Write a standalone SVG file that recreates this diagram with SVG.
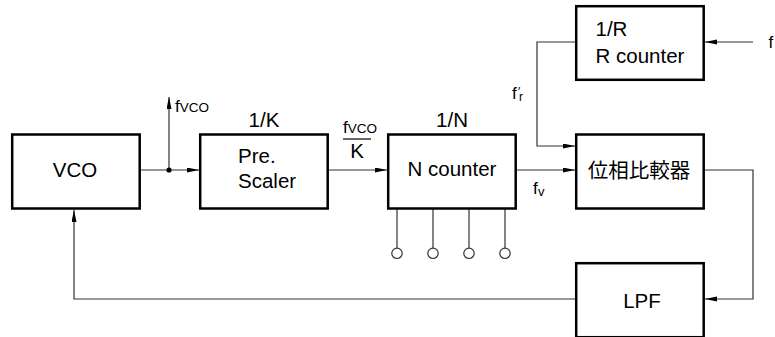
<svg xmlns="http://www.w3.org/2000/svg" width="775" height="337" viewBox="0 0 775 337">
<style>
.box{fill:#fff;stroke:#000;stroke-width:2.5}
.ln{fill:none;stroke:#333;stroke-width:1.2}
.t{font-family:"Liberation Sans",Arial,sans-serif;font-size:20.5px;fill:#000}
.s{font-family:"Liberation Sans",Arial,sans-serif;font-size:17px;fill:#000}
.sub{font-size:13.5px}
.cjk{font-family:"Liberation Sans","Noto Sans CJK JP",sans-serif;font-size:20.5px;fill:#000}
</style>
<defs>
<marker id="ar" markerUnits="userSpaceOnUse" markerWidth="12" markerHeight="6" refX="12" refY="2.5" orient="auto">
<path d="M0,0 L12,2.5 L0,5 z" fill="#000"/>
</marker>
</defs>
<g id="connectors">
<line class="ln" x1="140" y1="170" x2="199" y2="170" marker-end="url(#ar)"/>
<line class="ln" x1="169" y1="170" x2="169" y2="97" marker-end="url(#ar)"/>
<circle cx="169" cy="170" r="2.6" fill="#000"/>
<line class="ln" x1="329" y1="170" x2="387" y2="170" marker-end="url(#ar)"/>
<line class="ln" x1="517" y1="170" x2="575" y2="170" marker-end="url(#ar)"/>
<polyline class="ln" points="575,42 537,42 537,146 575,146" marker-end="url(#ar)"/>
<line class="ln" x1="753" y1="42" x2="705" y2="42" marker-end="url(#ar)"/>
<polyline class="ln" points="705,170 753,170 753,299 705,299" marker-end="url(#ar)"/>
<polyline class="ln" points="575,299 74,299 74,210" marker-end="url(#ar)"/>
<g id="pins">
<line class="ln" x1="397" y1="209" x2="397" y2="248"/>
<line class="ln" x1="433" y1="209" x2="433" y2="248"/>
<line class="ln" x1="469" y1="209" x2="469" y2="248"/>
<line class="ln" x1="505" y1="209" x2="505" y2="248"/>
<circle class="ln" cx="397" cy="253.3" r="5.2"/>
<circle class="ln" cx="433" cy="253.3" r="5.2"/>
<circle class="ln" cx="469" cy="253.3" r="5.2"/>
<circle class="ln" cx="505" cy="253.3" r="5.2"/>
</g>
<text class="s" x="175" y="112">f<tspan class="sub">VCO</tspan></text>
<text class="s" x="343" y="133">f<tspan class="sub">VCO</tspan></text>
<line x1="343" y1="139" x2="371" y2="139" stroke="#000" stroke-width="1.2"/>
<text class="t" x="357" y="158" text-anchor="middle">K</text>
<text class="s" x="512" y="99">f</text>
<text class="s" x="518" y="96" style="font-size:12px">′</text>
<text class="s" x="519" y="101" style="font-size:12px">r</text>
<text class="s" x="533" y="194">f</text>
<text class="s" x="538" y="196" style="font-size:13px">v</text>
<text class="s" x="768.5" y="48">f</text>
</g>
<g id="vco">
<rect class="box" x="12.2" y="134.5" width="127.5" height="74"/>
<text class="t" x="75" y="177" text-anchor="middle">VCO</text>
</g>
<g id="prescaler">
<rect class="box" x="200.2" y="134.5" width="127.5" height="74"/>
<text class="t" x="264" y="127" text-anchor="middle">1/K</text>
<text class="t" x="238" y="163">Pre.</text>
<text class="t" x="238" y="188">Scaler</text>
</g>
<g id="ncounter">
<rect class="box" x="388.2" y="134.5" width="127.5" height="74"/>
<text class="t" x="452" y="127" text-anchor="middle">1/N</text>
<text class="t" x="452" y="176" text-anchor="middle">N counter</text>
</g>
<g id="comparator">
<rect class="box" x="576.2" y="134.5" width="127.5" height="74"/>
<text class="cjk" x="639" y="178" text-anchor="middle">位相比較器</text>
</g>
<g id="rcounter">
<rect class="box" x="576.2" y="6.2" width="127.5" height="73.6"/>
<text class="t" x="595.5" y="36">1/R</text>
<text class="t" x="595.5" y="63">R counter</text>
</g>
<g id="lpf">
<rect class="box" x="576.2" y="263.2" width="127.5" height="74"/>
<text class="t" x="642" y="308" text-anchor="middle">LPF</text>
</g>
</svg>
